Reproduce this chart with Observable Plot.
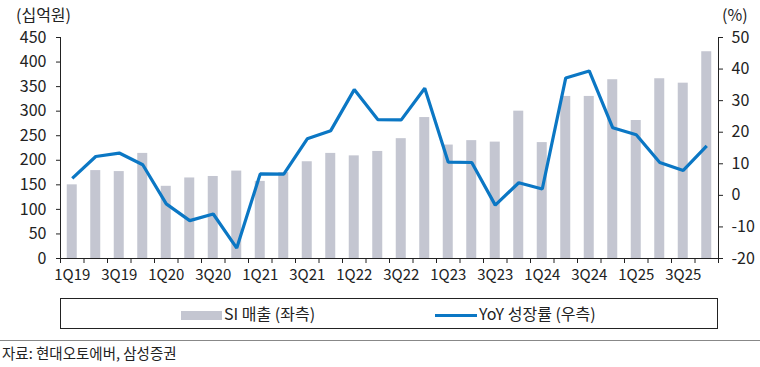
<!DOCTYPE html>
<html>
<head>
<meta charset="utf-8">
<script src="https://cdn.jsdelivr.net/npm/d3@7"></script>
<script src="https://cdn.jsdelivr.net/npm/@observablehq/plot@0.6"></script>
<style>
  html, body { margin: 0; padding: 0; background: #fff; }
  body { width: 760px; height: 367px; position: relative; overflow: hidden;
         font-family: "Noto Sans CJK KR", "Noto Sans", sans-serif; color: #222; }
  #chart { position: absolute; left: 0; top: 0; }
  .unit { position: absolute; top: 5px; font-size: 16px; line-height: 18px; letter-spacing: 0; color: #222; }
  #legend { position: absolute; left: 60px; top: 298px; width: 656px; height: 29px;
            border: 1px solid #222; box-sizing: content-box; }
  .li { position: absolute; top: 3px; font-size: 16px; letter-spacing: 0; line-height: 22px; white-space: nowrap; }
  .sw { display: inline-block; vertical-align: middle; margin-right: 2px; }
  #sep { position: absolute; left: 0; top: 340px; width: 760px; height: 0; border-top: 1.5px solid #888; }
  #src { position: absolute; left: 2px; top: 342px; font-size: 14.5px; letter-spacing: 0; color: #222; }
</style>
</head>
<body>
<div id="chart"></div>
<div class="unit" style="left:16px">(십억원)</div>
<div class="unit" style="left:722px">(%)</div>
<div id="legend">
  <div class="li" style="left:120px"><span class="sw" style="width:41px;height:9px;background:#c4c6d1"></span>SI 매출 (좌측)</div>
  <div class="li" style="left:374px"><span class="sw" style="width:42px;height:3px;background:#0b77c4"></span>YoY 성장률 (우측)</div>
</div>
<div id="sep"></div>
<div id="src">자료: 현대오토에버, 삼성증권</div>
<script>
const quarters = ["1Q19","2Q19","3Q19","4Q19","1Q20","2Q20","3Q20","4Q20",
  "1Q21","2Q21","3Q21","4Q21","1Q22","2Q22","3Q22","4Q22",
  "1Q23","2Q23","3Q23","4Q23","1Q24","2Q24","3Q24","4Q24",
  "1Q25","2Q25","3Q25","4Q25"];
const siSales = [150,179,177,214,147,164,167,178,
  157,175,197,214,209,218,244,287,
  231,240,237,300,236,330,330,364,
  281,366,357,421];
const yoyGrowth = [5.4,12.3,13.4,9.7,-2.7,-8.0,-5.9,-16.7,
  6.8,6.7,17.9,20.5,33.5,24.0,23.9,33.9,
  10.5,10.4,-3.1,4.0,2.0,37.2,39.4,21.4,
  19.2,10.4,7.9,15.7];
const leftTicks = [0,50,100,150,200,250,300,350,400,450];
const rightTicks = [-20,-10,0,10,20,30,40,50];

const leftMax = 450, rMin = -20, rMax = 50;
const toLeft = v => (v - rMin) / (rMax - rMin) * leftMax;

const data = quarters.map((q, i) => ({q, i, sales: siSales[i], yoy: yoyGrowth[i]}));
const halfBar = 0.213;

const plot = Plot.plot({
  width: 760,
  height: 285,
  marginLeft: 60,
  marginRight: 42,
  marginTop: 37,
  marginBottom: 27,
  style: {fontFamily: "'Noto Sans CJK KR', 'Noto Sans', sans-serif", fontSize: "15px", color: "#222"},
  x: {type: "linear", domain: [-0.5, quarters.length - 0.5]},
  y: {domain: [0, leftMax]},
  marks: [
    Plot.rectY(data, {x1: d => d.i - halfBar, x2: d => d.i + halfBar, y: "sales", fill: "#c4c6d1"}),
    Plot.line(data, {x: "i", y: d => toLeft(d.yoy), stroke: "#0b77c4", strokeWidth: 3.2, strokeLinejoin: "miter", strokeLinecap: "butt"}),
    // left axis
    Plot.axisY({ticks: leftTicks, tickSize: 4, tickPadding: 10, tickFormat: d => String(d), label: null, stroke: "#222", strokeOpacity: 1, fontSize: 16, letterSpacing: "-0.3px"}),
    Plot.ruleX([-0.5], {stroke: "#222", strokeWidth: 1}),
    // right axis
    Plot.axisY({anchor: "right", ticks: rightTicks.map(toLeft), tickSize: 4, tickPadding: 9,
      tickFormat: v => String(Math.round(v / leftMax * (rMax - rMin) + rMin)), label: null, stroke: "#222", strokeOpacity: 1, fontSize: 16, letterSpacing: "-0.3px"}),
    Plot.ruleX([quarters.length - 0.5], {stroke: "#222", strokeWidth: 1}),
    // bottom axis: ticks at band boundaries, labels every other quarter
    Plot.ruleY([0], {stroke: "#222", strokeWidth: 1}),
    Plot.axisX({ticks: d3.range(-0.5, quarters.length, 1), tickSize: 5, tickFormat: () => "", label: null, stroke: "#222", strokeOpacity: 1}),
    Plot.axisX({ticks: d3.range(0, quarters.length, 2), tickSize: 0, tickPadding: 11, tickFormat: i => quarters[i], label: null, fontSize: 15, letterSpacing: "-0.4px"})
  ]
});
document.getElementById("chart").appendChild(plot);
</script>
</body>
</html>
